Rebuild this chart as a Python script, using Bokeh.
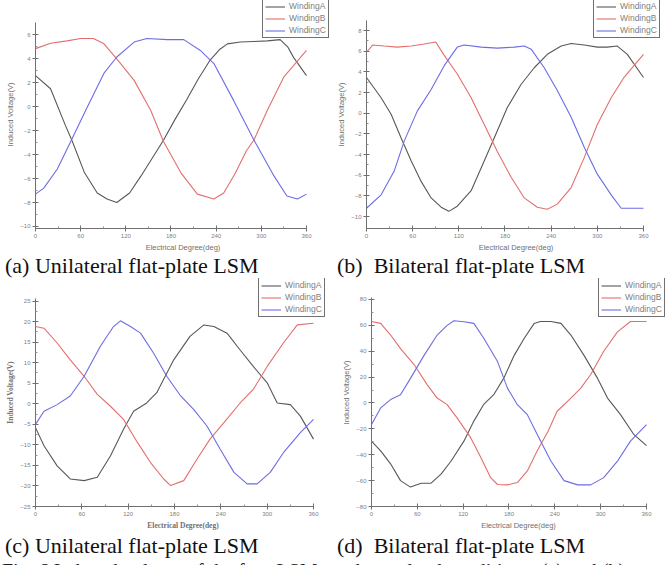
from bokeh.plotting import figure
from bokeh.layouts import column, row
from bokeh.models import FixedTicker, Range1d, Legend, LegendItem, Div, GlobalInlineStyleSheet
from bokeh.embed import file_html
from bokeh.resources import INLINE

# ---------------- data ----------------
x_major = [0, 60, 120, 180, 240, 300, 360]
x_minor = [30, 90, 150, 210, 270, 330]
names = ["WindingA", "WindingB", "WindingC"]

# (a) Unilateral flat-plate LSM
a_xA = [0, 20, 40, 49, 65, 82, 95, 108, 125, 140, 155, 170, 185, 201, 216, 232, 245, 255, 272, 290, 308, 325, 335, 343, 360]
a_yA = [2.6, 1.5, -1.6, -2.9, -5.5, -7.2, -7.7, -8.0, -7.2, -5.8, -4.3, -2.8, -1.1, 0.6, 2.3, 3.9, 4.8, 5.25, 5.4, 5.45, 5.5, 5.6, 5.0, 4.1, 2.6]
a_xB = [0, 20, 42, 60, 77, 91, 108, 131, 153, 170, 193, 215, 237, 250, 265, 280, 290, 308, 330, 360]
a_yB = [4.85, 5.3, 5.5, 5.7, 5.7, 5.25, 4.0, 2.2, -0.3, -2.9, -5.5, -7.3, -7.7, -7.2, -5.6, -3.7, -2.8, -0.3, 2.5, 4.7]
a_xC = [0, 11, 29, 46, 69, 91, 108, 131, 148, 175, 197, 219, 237, 263, 290, 317, 334, 348, 360]
a_yC = [-7.3, -6.8, -5.2, -3.0, 0.0, 2.8, 4.15, 5.4, 5.7, 5.6, 5.6, 4.7, 3.6, 0.55, -2.75, -5.8, -7.45, -7.7, -7.3]
a_yticks = [-10, -8, -6, -4, -2, 0, 2, 4, 6]

# (b) Bilateral flat-plate LSM
b_xA = [0, 19, 32, 45, 58, 71, 84, 97, 107, 118, 136, 149, 166, 183, 201, 218, 235, 253, 266, 283, 300, 313, 326, 339, 360]
b_yA = [3.46, 1.5, -0.1, -2.4, -4.6, -6.6, -8.2, -9.1, -9.5, -9.0, -7.5, -5.3, -2.4, 0.55, 2.8, 4.4, 5.7, 6.5, 6.75, 6.6, 6.4, 6.4, 6.5, 5.7, 3.46]
b_xB = [0, 8, 23, 40, 58, 75, 90, 101, 118, 136, 153, 170, 188, 205, 222, 235, 248, 266, 283, 300, 318, 335, 360]
b_yB = [5.9, 6.6, 6.5, 6.4, 6.5, 6.7, 6.9, 5.6, 3.8, 1.5, -1.1, -3.7, -6.2, -8.2, -9.1, -9.3, -8.8, -7.2, -4.3, -1.1, 1.5, 3.5, 5.7]
b_xC = [0, 19, 36, 49, 66, 84, 101, 118, 127, 149, 170, 192, 205, 214, 231, 248, 266, 283, 300, 318, 331, 360]
b_yC = [-9.2, -7.9, -5.6, -2.7, 0.2, 2.3, 4.6, 6.4, 6.6, 6.4, 6.3, 6.4, 6.5, 6.2, 4.4, 2.2, -0.4, -3.3, -5.9, -7.9, -9.2, -9.2]
b_yticks = [-10, -8, -6, -4, -2, 0, 2, 4, 6, 8]

# (c) Unilateral flat-plate LSM
c_xA = [0, 11, 28, 45, 63, 80, 97, 114, 127, 144, 157, 179, 200, 218, 231, 248, 265, 282, 300, 313, 330, 343, 360]
c_yA = [-5.8, -10.2, -15.1, -18.3, -18.7, -17.9, -12.7, -6.2, -1.8, 0.2, 2.7, 10.7, 16.4, 19.2, 18.8, 17.2, 13.1, 9.1, 5.1, 0.2, -0.2, -3.0, -8.6]
c_xB = [0, 11, 28, 45, 63, 80, 97, 114, 132, 149, 166, 175, 192, 209, 226, 244, 265, 282, 300, 321, 339, 360]
c_yB = [18.8, 18.4, 14.8, 10.7, 6.7, 2.3, -0.6, -3.8, -9.4, -14.3, -18.3, -19.9, -18.7, -13.5, -8.6, -4.6, 0.2, 3.5, 9.1, 14.8, 19.2, 19.6]
c_xC = [0, 11, 28, 45, 63, 84, 101, 110, 123, 136, 153, 170, 188, 205, 222, 239, 257, 274, 287, 304, 321, 343, 360]
c_yC = [-5.0, -1.8, -0.2, 1.9, 6.7, 14.0, 18.8, 20.2, 18.8, 17.2, 12.3, 6.7, 1.9, -1.4, -5.4, -11.0, -16.7, -19.5, -19.5, -16.7, -11.9, -7.0, -3.8]
c_yticks = [-25, -20, -15, -10, -5, 0, 5, 10, 15, 20, 25]

# (d) Bilateral flat-plate LSM
d_xA = [0, 12, 25, 38, 51, 65, 78, 91, 104, 121, 134, 147, 160, 173, 187, 200, 213, 221, 235, 248, 261, 278, 296, 309, 326, 343, 360]
d_yA = [-29.5, -37, -47, -60, -65, -62, -62, -55, -45, -29.5, -14, -1, 6.4, 19, 37, 50, 61.5, 63, 63, 61.5, 52.5, 37, 19, 3.8, -9, -24, -33]
d_xB = [0, 12, 25, 38, 56, 73, 86, 99, 112, 130, 143, 156, 165, 178, 191, 204, 217, 231, 243, 261, 274, 287, 304, 322, 339, 360]
d_yB = [63, 61.5, 52.5, 42, 29.5, 14, 3.8, -1.3, -11.5, -27, -42, -57.7, -63, -63.3, -61.5, -52.5, -37, -22, -6.4, 3.8, 11.5, 22, 40, 55, 63, 63]
d_xC = [0, 12, 25, 38, 51, 69, 86, 99, 108, 121, 134, 147, 165, 178, 191, 204, 217, 235, 252, 270, 287, 304, 322, 339, 360]
d_yC = [-16.7, -3.8, 2.6, 6.4, 19, 37, 52.5, 60, 63.6, 62.8, 61.5, 50, 32, 11.5, -1.3, -9, -24.4, -45, -60, -63.3, -63.3, -57.7, -45, -29.5, -16.7]
d_yticks = [-80, -60, -40, -20, 0, 20, 40, 60, 80]

captions = ["(a) Unilateral flat-plate LSM", "(b)&nbsp; Bilateral flat-plate LSM",
            "(c) Unilateral flat-plate LSM", "(d)&nbsp; Bilateral flat-plate LSM"]
fig_caption = "Fig. 6 Induced voltage of the four LSMs under no-load conditions: (a) and (b)"

COLORS = ["#585858", "#e46e6e", "#6c6ce4"]


def minor_of(ticks):
    return [(ticks[i] + ticks[i + 1]) / 2 for i in range(len(ticks) - 1)]


def panel(width, height, left, bottom, x_end, yr, ybounds, yticks, series, leg_xy,
          label_font, label_style):
    p = figure(width=width, height=height, output_backend="svg", toolbar_location=None,
               x_range=Range1d(0, x_end), y_range=Range1d(*yr),
               min_border_left=left, min_border_right=0, min_border_top=0, min_border_bottom=bottom,
               x_axis_label="Electrical Degree(deg)", y_axis_label="Induced Voltage(V)")
    p.outline_line_color = None
    p.xgrid.visible = False
    p.ygrid.visible = False
    p.background_fill_color = "white"
    p.border_fill_color = "white"
    p.xaxis.ticker = FixedTicker(ticks=x_major, minor_ticks=x_minor)
    p.yaxis.ticker = FixedTicker(ticks=yticks, minor_ticks=minor_of(yticks))
    p.xaxis.bounds = (0, 360)
    p.yaxis.bounds = ybounds
    for ax in p.axis:
        ax.axis_line_color = "#707070"
        ax.major_tick_line_color = "#707070"
        ax.minor_tick_line_color = "#909090"
        ax.major_tick_in = 3
        ax.major_tick_out = 3
        ax.minor_tick_in = 2
        ax.minor_tick_out = 0
        ax.major_label_text_font = "Liberation Sans"
        ax.major_label_text_font_size = "6px"
        ax.major_label_text_color = "#808080"
        ax.major_label_standoff = 2
        ax.axis_label_text_font = label_font
        ax.axis_label_text_font_style = label_style
        ax.axis_label_text_font_size = "7.5px"
        ax.axis_label_text_color = "#707070"
        ax.axis_label_standoff = 2
    items = []
    for name, (xs, ys), col in zip(names, series, COLORS):
        r = p.line(xs, ys, line_color=col, line_width=1.1)
        items.append(LegendItem(label=name, renderers=[r]))
    leg = Legend(items=items, location=leg_xy, orientation="vertical",
                 label_text_font="Liberation Sans", label_text_font_size="8.5px",
                 label_text_line_height=1.0,
                 label_text_color="#808080", label_height=9, glyph_height=9, glyph_width=20,
                 label_standoff=4, spacing=2, padding=2, margin=0,
                 border_line_color="#707070", border_line_width=1, border_line_alpha=1.0,
                 background_fill_color="white", background_fill_alpha=1.0)
    p.add_layout(leg)
    return p


def cap(text, width, pad):
    return Div(text=f'<div style="font-family:\'Liberation Serif\';font-size:22px;line-height:24px;'
                    f'white-space:nowrap;color:#111;padding-left:{pad}px">{text}</div>',
               width=width, height=24, margin=0, styles={"overflow": "hidden"})


pa = panel(330, 254, 35, 26, 391.9, (-10.17, 8.87), (-10.17, 7.03), a_yticks,
           [(a_xA, a_yA), (a_xB, a_yB), (a_xC, a_yC)], (227, 190), "Liberation Sans", "normal")
pb = panel(335, 254, 36, 26, 388.6, (-11.16, 10.91), (-11.16, 8.97), b_yticks,
           [(b_xA, b_yA), (b_xB, b_yB), (b_xC, b_yC)], (227, 190), "Liberation Sans", "normal")
pc = panel(330, 256, 35, 25, 382.0, (-25.0, 30.5), (-25.0, 25.7), c_yticks,
           [(c_xA, c_yA), (c_xB, c_yB), (c_xC, c_yC)], (223, 189), "Liberation Serif", "bold")
pd = panel(335, 256, 41, 28, 384.9, (-80.0, 96.2), (-80.0, 81.5), d_yticks,
           [(d_xA, d_yA), (d_xB, d_yB), (d_xC, d_yC)], (227, 189), "Liberation Sans", "normal")

fig_div = Div(text=f'<div style="font-family:\'Liberation Serif\';font-size:20px;line-height:20px;'
                   f'white-space:nowrap;color:#222;padding-left:2px;padding-top:3px">{fig_caption}</div>',
              width=665, height=7, margin=0, styles={"overflow": "hidden"})

root = column(
    row(pa, pb, spacing=0),
    row(cap(captions[0], 330, 5), cap(captions[1], 335, 7), spacing=0),
    row(pc, pd, spacing=0),
    row(cap(captions[2], 330, 5), cap(captions[3], 335, 7), spacing=0),
    fig_div,
    spacing=0,
    stylesheets=[GlobalInlineStyleSheet(css="html, body { margin: 0 !important; padding: 0 !important; overflow: hidden; }")],
)

open("out.html", "w").write(file_html(root, INLINE))
